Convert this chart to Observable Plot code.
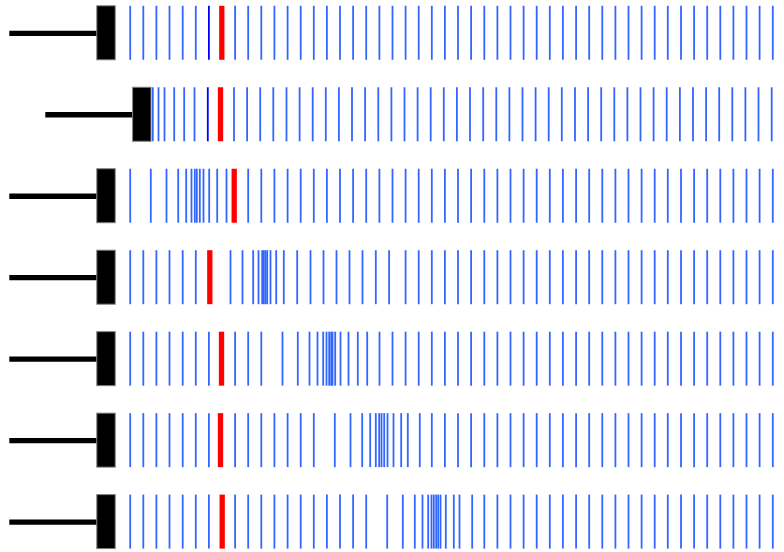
<!DOCTYPE html>
<html><head><meta charset="utf-8">
<script src="https://cdn.jsdelivr.net/npm/d3@7"></script>
<script src="https://cdn.jsdelivr.net/npm/@observablehq/plot@0.6"></script>
<style>body{margin:0;background:#fff;overflow:hidden}</style>
</head><body><div id="chart"></div>
<script>
const rows = ["1", "2", "3", "4", "5", "6", "7"];
const stemStart = [9.3, 45.3, 9.3, 9.3, 9.3, 9.3, 9.3];
const boxLeft = [96.8, 132.6, 96.8, 96.8, 96.8, 96.8, 96.8];
const boxRight = [115.2, 151.0, 115.2, 115.2, 115.2, 115.2, 115.2];
const redX = [221.3, 220.0, 233.7, 209.3, 221.0, 220.0, 221.7];
const darkRows = ["1", "2"];
const darkX = [208.4, 207.3];

const row1 = [129.7, 142.8, 155.9, 169.0, 182.2, 195.3, 234.6, 247.7, 260.8, 273.9, 287.1, 300.2, 313.3, 326.4, 339.5, 352.6, 365.7, 378.9, 392.0, 405.1, 418.2, 431.3, 444.4, 457.5, 470.6, 483.8, 496.9, 510.0, 523.1, 536.2, 549.3, 562.4, 575.6, 588.7, 601.8, 614.9, 628.0, 641.1, 654.2, 667.3, 680.5, 693.6, 706.7, 719.8, 732.9, 746.0, 759.1, 772.3];
const row2 = [152.3, 158.0, 164.0, 173.7, 183.7, 194.0, 233.5, 246.6, 259.7, 272.8, 286.0, 299.1, 312.2, 325.3, 338.4, 351.5, 364.6, 377.8, 390.9, 404.0, 417.1, 430.2, 443.3, 456.4, 469.5, 482.7, 495.8, 508.9, 522.0, 535.1, 548.2, 561.3, 574.5, 587.6, 600.7, 613.8, 626.9, 640.0, 653.1, 666.2, 679.4, 692.5, 705.6, 718.7, 731.8, 744.9, 758.0, 771.2];
const row3 = [129.7, 150.3, 166.0, 177.7, 185.7, 191.0, 194.3, 196.3, 199.3, 203.0, 208.7, 216.7, 226.0, 247.7, 260.8, 273.9, 287.1, 300.2, 313.3, 326.4, 339.5, 352.6, 365.7, 378.9, 392.0, 405.1, 418.2, 431.3, 444.4, 457.5, 470.6, 483.8, 496.9, 510.0, 523.1, 536.2, 549.3, 562.4, 575.6, 588.7, 601.8, 614.9, 628.0, 641.1, 654.2, 667.3, 680.5, 693.6, 706.7, 719.8, 732.9, 746.0, 759.1, 772.3, 785.0];
const row4 = [129.7, 142.8, 155.9, 169.0, 182.2, 195.3, 230.0, 242.0, 252.7, 258.0, 261.7, 263.3, 265.0, 266.7, 270.0, 275.7, 283.3, 296.7, 310.0, 323.0, 336.0, 349.0, 362.0, 375.3, 388.6, 405.1, 418.2, 431.3, 444.4, 457.5, 470.6, 483.8, 496.9, 510.0, 523.1, 536.2, 549.3, 562.4, 575.6, 588.7, 601.8, 614.9, 628.0, 641.1, 654.2, 667.3, 680.5, 693.6, 706.7, 719.8, 732.9, 746.0, 759.1, 772.3];
const row5 = [129.7, 142.8, 155.9, 169.0, 182.2, 195.3, 208.4, 234.6, 247.7, 260.8, 282.0, 297.3, 309.0, 317.0, 322.7, 326.0, 328.7, 330.7, 332.0, 334.7, 340.0, 348.0, 357.3, 366.7, 379.0, 392.0, 405.1, 418.2, 431.3, 444.4, 457.5, 470.6, 483.8, 496.9, 510.0, 523.1, 536.2, 549.3, 562.4, 575.6, 588.7, 601.8, 614.9, 628.0, 641.1, 654.2, 667.3, 680.5, 693.6, 706.7, 719.8, 732.9, 746.0, 759.1, 772.3];
const row6 = [129.7, 142.8, 155.9, 169.0, 182.2, 195.3, 208.4, 234.6, 247.7, 260.8, 273.9, 287.1, 300.2, 313.3, 334.3, 350.0, 361.7, 369.7, 375.3, 378.7, 381.0, 383.7, 387.0, 393.0, 400.7, 407.3, 419.3, 431.3, 444.4, 457.5, 470.6, 483.8, 496.9, 510.0, 523.1, 536.2, 549.3, 562.4, 575.6, 588.7, 601.8, 614.9, 628.0, 641.1, 654.2, 667.3, 680.5, 693.6, 706.7, 719.8, 732.9, 746.0, 759.1, 772.3];
const row7 = [129.7, 142.8, 155.9, 169.0, 182.2, 195.3, 208.4, 234.6, 247.7, 260.8, 273.9, 287.1, 300.2, 313.3, 326.4, 339.5, 352.6, 365.7, 386.7, 402.3, 414.3, 422.0, 427.7, 431.0, 433.3, 435.7, 437.7, 440.0, 445.3, 453.3, 459.0, 471.7, 483.8, 496.9, 510.0, 523.1, 536.2, 549.3, 562.4, 575.6, 588.7, 601.8, 614.9, 628.0, 641.1, 654.2, 667.3, 680.5, 693.6, 706.7, 719.8, 732.9, 746.0, 759.1, 772.3];
const rowTicks = [row1, row2, row3, row4, row5, row6, row7];

const tickData = rowTicks.flatMap((xs, i) => xs.map(x => ({row: rows[i], x})));
const redData = rows.map((r, i) => ({row: r, x: redX[i]}));
const darkData = darkRows.map((r, i) => ({row: r, x: darkX[i]}));
const boxData = rows.map((r, i) => ({row: r, x1: boxLeft[i], x2: boxRight[i]}));
const stemData = rows.map((r, i) => ({row: r, x1: stemStart[i], x2: boxLeft[i]}));

const chart = Plot.plot({
  width: 784,
  height: 552,
  margin: 0,
  style: {background: "white"},
  x: {domain: [0, 784], range: [0, 784], axis: null},
  y: {type: "band", domain: rows, range: [5.8, 548.6], paddingInner: 0.3373, paddingOuter: 0, round: false, axis: null},
  marks: [
    Plot.ruleY(stemData, {x1: "x1", x2: "x2", y: "row", stroke: "black", strokeWidth: 5.3}),
    Plot.tickX(tickData, {x: "x", y: "row", stroke: "#3366ff", strokeWidth: 1.8}),
    Plot.tickX(darkData, {x: "x", y: "row", stroke: "#0000ff", strokeWidth: 1.8}),
    Plot.tickX(redData, {x: "x", y: "row", stroke: "#ff0000", strokeWidth: 5.3}),
    Plot.barX(boxData, {x1: "x1", x2: "x2", y: "row", fill: "black", stroke: "#808080", strokeWidth: 1})
  ]
});
document.getElementById("chart").append(chart);
</script>
</body></html>
